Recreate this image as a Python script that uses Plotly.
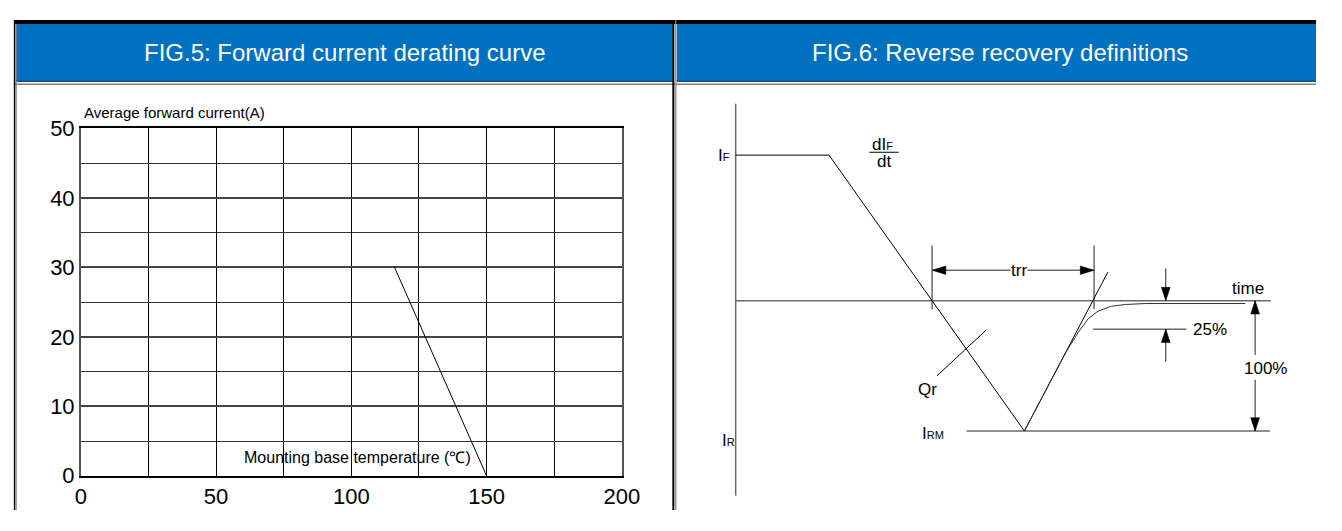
import plotly.graph_objects as go

# page body has an 8px margin: figure spans reference pixels 8..1334 x 8..523 (no scrollbars)
OX, OY = 8, 8
FW, FH = 1326, 515

# ---------------- FIG.5 data ----------------
temp_c = [116, 150]            # Mounting base temperature (°C)
avg_current_a = [30, 0]        # Average forward current (A)
x_tick_vals = [0, 50, 100, 150, 200]
x_tick_text = ["0", "50", "100", "150", "200"]
y_tick_vals = [0, 10, 20, 30, 40, 50]
y_tick_text = ["0", "10", "20", "30", "40", "50"]

# ---------------- FIG.6 schematic data (time t, current i) ----------------
axis_t = [0, 0];               axis_i = [207, -205]
time_axis_t = [0, 545];        time_axis_i = [0, 0]
fall_t = [0, 95, 294];         fall_i = [153, 153, -137]
tangent_t = [294, 379];        tangent_i = [-137, 30]
recovery_t = [294, 317, 337, 349, 359, 369, 382, 397, 417, 519]
recovery_i = [-137, -92, -53, -33, -19, -11, -6, -4, -3, -3]
irm_line_t = [235, 544];       irm_line_i = [-137, -137]
trr_left_t = [200, 200];       trr_right_t = [365, 365];  trr_mark_i = [58, -9]
trr_arrow_t = [200, 365];      trr_arrow_i = [32, 32]
q25_line_t = [364, 459];       q25_line_i = [-30, -30]
q25_arrow_t = 438;             q25_down_i = [34, 0];      q25_up_i = [-64, -30]
full_arrow_t = 529;            full_up_i = [-57, 0];      full_down_i = [-83, -137]
qr_t = [205, 255];             qr_i = [-79, -31]
frac_t = [136, 166];           frac_i = [156, 156]

BLUE = "#0070C0"
FONT = "Arial, Liberation Sans, sans-serif"
GREY = "#6a6a6a"

def px(x):
    return (x - OX) / FW

def py(y):
    return 1 - (y - OY) / FH

fig = go.Figure()

fig.add_trace(go.Scatter(x=temp_c, y=avg_current_a, mode="lines",
                         line=dict(color="black", width=1), xaxis="x", yaxis="y",
                         hoverinfo="skip", showlegend=False))

def seg(t, i, color="black", width=1):
    fig.add_trace(go.Scatter(x=t, y=i, mode="lines", line=dict(color=color, width=width),
                             xaxis="x2", yaxis="y2", hoverinfo="skip", showlegend=False))

def head(tx, ti, dx, di, L=14, w=4.5):
    nx, ni = -di, dx
    xs = [tx, tx - L * dx + w * nx, tx - L * dx - w * nx, tx]
    ys = [ti, ti - L * di + w * ni, ti - L * di - w * ni, ti]
    fig.add_trace(go.Scatter(x=xs, y=ys, mode="lines", fill="toself", fillcolor="black",
                             line=dict(color="black", width=0.5), xaxis="x2", yaxis="y2",
                             hoverinfo="skip", showlegend=False))

seg(axis_t, axis_i, GREY, 1.5)
seg(time_axis_t, time_axis_i, GREY, 1.5)
seg(irm_line_t, irm_line_i, GREY, 1.5)
seg(trr_left_t, trr_mark_i, GREY, 1.5)
seg(trr_right_t, trr_mark_i, GREY, 1.5)
seg(trr_arrow_t, trr_arrow_i, GREY, 1.5)
seg(q25_line_t, q25_line_i, GREY, 1.5)
seg([q25_arrow_t] * 2, q25_down_i, "#222", 1)
seg([q25_arrow_t] * 2, q25_up_i, "#222", 1)
seg([full_arrow_t] * 2, full_up_i, "#222", 1)
seg([full_arrow_t] * 2, full_down_i, "#222", 1)
seg(fall_t, fall_i, "black", 1)
seg(tangent_t, tangent_i, "black", 1)
seg(recovery_t, recovery_i, "#333", 1)
seg(qr_t, qr_i, "black", 1)
seg(frac_t, frac_i, "black", 1)

head(trr_arrow_t[0], trr_arrow_i[0], -1, 0)
head(trr_arrow_t[1], trr_arrow_i[1], 1, 0)
head(q25_arrow_t, q25_down_i[1], 0, -1)
head(q25_arrow_t, q25_up_i[1], 0, 1)
head(full_arrow_t, full_up_i[1], 0, 1)
head(full_arrow_t, full_down_i[1], 0, -1)

R = OX + FW
shapes = []
shapes.append(dict(type="rect", xref="paper", yref="paper", x0=px(10), x1=px(679),
                   y0=py(72), y1=py(12), fillcolor=BLUE, line=dict(width=0), layer="below"))
shapes.append(dict(type="rect", xref="paper", yref="paper", x0=px(683), x1=1,
                   y0=py(72), y1=py(12), fillcolor=BLUE, line=dict(width=0), layer="below"))
for a, b in [(10, 679), (683, R)]:
    shapes.append(dict(type="line", xref="paper", yref="paper", x0=px(a), x1=px(b),
                       y0=py(72.5), y1=py(72.5), line=dict(color="#1f4e79", width=1.5)))
shapes.append(dict(type="line", xref="paper", yref="paper", x0=0, x1=1,
                   y0=py(10), y1=py(10), line=dict(color="black", width=4)))
shapes.append(dict(type="line", xref="paper", yref="paper", x0=0, x1=1,
                   y0=py(75.5), y1=py(75.5), line=dict(color="#808080", width=1.5)))
shapes.append(dict(type="line", xref="paper", yref="paper", x0=px(8.6), x1=px(8.6),
                   y0=0, y1=py(8), line=dict(color="black", width=1.5)))
shapes.append(dict(type="line", xref="paper", yref="paper", x0=px(10.2), x1=px(10.2),
                   y0=0, y1=py(12), line=dict(color="#808080", width=1.2)))
shapes.append(dict(type="line", xref="paper", yref="paper", x0=px(679.5), x1=px(679.5),
                   y0=0, y1=py(12), line=dict(color="black", width=2)))
shapes.append(dict(type="line", xref="paper", yref="paper", x0=px(682), x1=px(682),
                   y0=0, y1=py(8), line=dict(color="#808080", width=1.2)))

ann = []
def pann(text, x, y, size, color="black", xanchor="center"):
    ann.append(dict(text=text, x=px(x), y=py(y), xref="paper", yref="paper",
                    showarrow=False, xanchor=xanchor, yanchor="middle",
                    font=dict(family=FONT, size=size, color=color)))

pann("FIG.5: Forward current derating curve", 345, 42, 24, "white")
pann("FIG.6: Reverse recovery definitions", 1012, 42, 24, "white")
pann("Average forward current(A)", 77, 105, 15, xanchor="left")
pann("Mounting base temperature (℃)", 358, 468, 16)

def lab(text, t, i, size=17, bg=None):
    d = dict(text=text, x=t, y=i, xref="x2", yref="y2", showarrow=False,
             xanchor="center", yanchor="middle",
             font=dict(family=FONT, size=size, color="black"))
    if bg:
        d["bgcolor"] = bg
        d["borderpad"] = 0
    ann.append(d)

S = "<span style='font-size:11px'>"
lab("I" + S + "F</span>", -12, 153)
lab("dI" + S + "F</span>", 150, 164)
lab("dt", 151, 146)
lab("trr", 289, 32, bg="white")
lab("time", 522, 13)
lab("25%", 483, -30)
lab("100%", 540, -71, bg="white")
lab("Qr", 195, -93)
lab("I" + S + "RM</span>", 201, -140)
lab("I" + S + "R</span>", -7, -147)

fig.update_layout(
    width=FW, height=FH, margin=dict(l=0, r=0, t=0, b=0),
    paper_bgcolor="white", plot_bgcolor="white",
    shapes=shapes, annotations=ann, showlegend=False,
    xaxis=dict(domain=[px(76), px(627)], range=[0, 200], tickvals=x_tick_vals,
               ticktext=x_tick_text, showgrid=True, gridcolor="black", gridwidth=1,
               minor=dict(dtick=25, showgrid=True, gridcolor="black", gridwidth=1),
               showline=True, mirror=True, linecolor="black", linewidth=1.5,
               zeroline=False, ticks="", tickfont=dict(family=FONT, size=22, color="black"),
               fixedrange=True),
    yaxis=dict(domain=[py(487), py(122)], range=[0, 50], tickvals=y_tick_vals,
               ticktext=y_tick_text, showgrid=True, gridcolor="#444", gridwidth=1.5,
               minor=dict(dtick=5, showgrid=True, gridcolor="#333", gridwidth=1.2),
               showline=True, mirror=True, linecolor="#555", linewidth=1.5,
               zeroline=False, ticks="", tickfont=dict(family=FONT, size=22, color="black"),
               fixedrange=True),
    xaxis2=dict(domain=[px(683), 1], range=[683 - 743, R - 743], visible=False, fixedrange=True),
    yaxis2=dict(domain=[0, 1], range=[303 - (OY + FH), 303 - OY], visible=False, fixedrange=True),
)

fig.write_html("out.html")
